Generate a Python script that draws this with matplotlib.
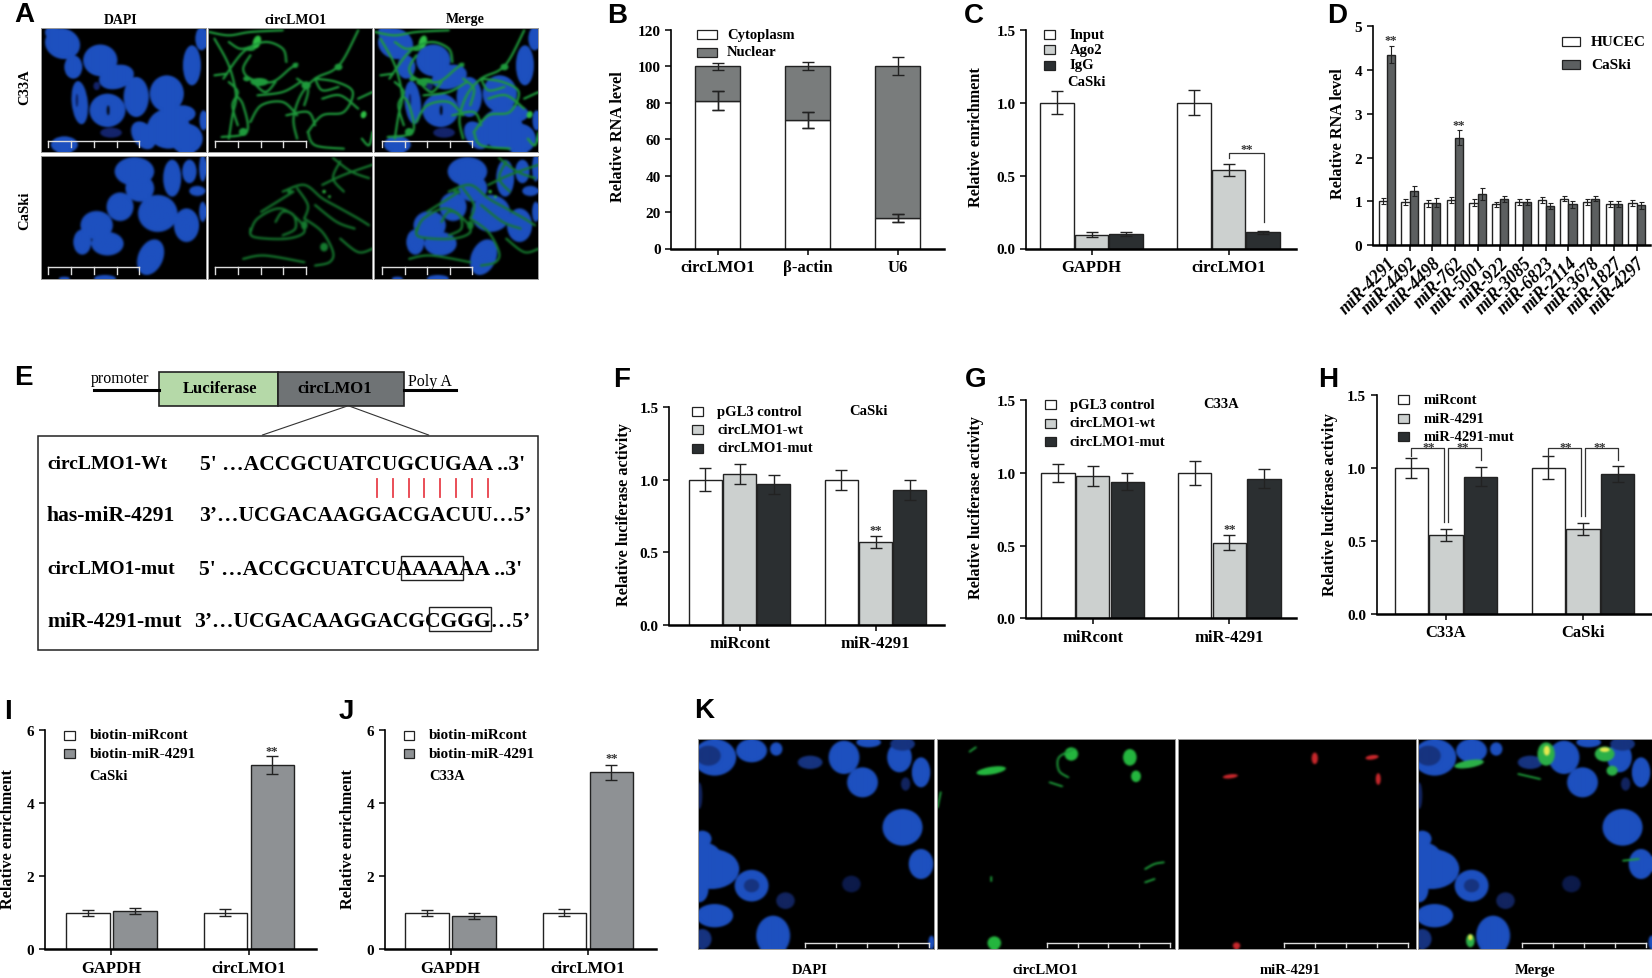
import matplotlib
matplotlib.use("Agg")
import matplotlib.pyplot as plt
from matplotlib.backends.backend_agg import FigureCanvasAgg
from matplotlib.figure import Figure
from matplotlib.patches import Ellipse, Rectangle
import numpy as np

plt.rcParams['font.family'] = ['Liberation Serif', 'DejaVu Sans']
plt.rcParams['font.weight'] = 'bold'

W, H = 1652, 979

WHITE = '#ffffff'
LIGHT = '#ccd0cf'
DARK = '#2b2f31'
MID = '#797c7c'
STEEL = '#8e9194'
DGRAY = '#5c5f60'

# panel B
b_names = ['circLMO1', 'β-actin', 'U6']
b_cyto = [81, 70.5, 16.5]
b_cyto_err = [5.2, 4.2, 2.2]
b_nuclear = [19, 29.5, 83.5]
b_nuclear_err = [2, 2.1, 4.9]

# panel C
c_names = ['GAPDH', 'circLMO1']
c_input = [1.0, 1.0]
c_input_err = [0.078, 0.088]
c_ago2 = [0.095, 0.54]
c_ago2_err = [0.015, 0.04]
c_igg = [0.10, 0.11]
c_igg_err = [0.016, 0.008]

# panel D
d_names = ['miR-4291', 'miR-4492', 'miR-4498', 'miR-762', 'miR-5001', 'miR-922',
           'miR-3085', 'miR-6823', 'miR-2114', 'miR-3678', 'miR-1827', 'miR-4297']
d_hucec = [1.0, 0.98, 0.95, 1.03, 0.97, 0.93, 0.98, 1.03, 1.06, 0.98, 0.93, 0.97]
d_hucec_err = [0.07, 0.07, 0.08, 0.07, 0.08, 0.06, 0.07, 0.06, 0.06, 0.07, 0.07, 0.07]
d_caski = [4.35, 1.24, 0.97, 2.45, 1.17, 1.05, 0.98, 0.89, 0.93, 1.06, 0.94, 0.91]
d_caski_err = [0.2, 0.12, 0.1, 0.17, 0.14, 0.07, 0.07, 0.07, 0.08, 0.05, 0.07, 0.08]

# panel F
f_names = ['miRcont', 'miR-4291']
f_pgl3 = [1.0, 1.0]
f_pgl3_err = [0.08, 0.07]
f_wt = [1.04, 0.57]
f_wt_err = [0.07, 0.04]
f_mut = [0.97, 0.93]
f_mut_err = [0.065, 0.07]

# panel G
g_names = ['miRcont', 'miR-4291']
g_pgl3 = [1.0, 1.0]
g_pgl3_err = [0.06, 0.08]
g_wt = [0.98, 0.52]
g_wt_err = [0.07, 0.05]
g_mut = [0.94, 0.96]
g_mut_err = [0.06, 0.065]

# panel H
h_names = ['C33A', 'CaSki']
h_cont = [1.0, 1.0]
h_cont_err = [0.07, 0.08]
h_4291 = [0.54, 0.58]
h_4291_err = [0.04, 0.04]
h_mut = [0.94, 0.96]
h_mut_err = [0.065, 0.055]

# panels I, J
ij_names = ['GAPDH', 'circLMO1']
i_cont = [1.0, 1.0]
i_cont_err = [0.09, 0.1]
i_4291 = [1.06, 5.05]
i_4291_err = [0.08, 0.25]
j_cont = [1.0, 1.0]
j_cont_err = [0.09, 0.1]
j_4291 = [0.92, 4.85]
j_4291_err = [0.08, 0.2]

fig = plt.figure(figsize=(W / 100, H / 100), dpi=100, facecolor='white')

def px_axes(l, r, t, b, **kw):
    return fig.add_axes([l / W, 1 - b / H, (r - l) / W, (b - t) / H], **kw)

over = px_axes(0, W, 0, H, zorder=20)
over.set_xlim(0, W)
over.set_ylim(H, 0)
over.axis('off')
over.patch.set_alpha(0)

def txt(x, y, s, size=11, ha='left', weight='bold', **kw):
    over.text(x, y, s, fontsize=size, ha=ha, va='center', fontweight=weight, **kw)

def letter(x, y, s):
    over.text(x, y + 2, s, fontsize=20, ha='left', va='center', fontweight='bold',
              family='Liberation Sans')

def chart(l, r, t, b, centers, spacing, ymax, yticks, ylabels, xnames, ylab, ylab_x, ylab_y, tick=4.5):
    ax = px_axes(l, r, t, b)
    ax.set_xlim((l - centers) / spacing, (r - centers) / spacing)
    ax.set_ylim(0, ymax)
    ax.spines['top'].set_visible(False)
    ax.spines['right'].set_visible(False)
    ax.spines['left'].set_linewidth(1.2)
    ax.spines['bottom'].set_linewidth(1.8)
    ax.set_yticks(yticks)
    ax.set_yticklabels(ylabels, fontsize=11)
    ax.set_xticks(range(len(xnames)))
    ax.set_xticklabels(xnames, fontsize=12)
    ax.tick_params(axis='both', width=1.1, length=tick, pad=3)
    ax.patch.set_alpha(0)
    txt(ylab_x + 1.5, ylab_y, ylab, size=11.7, ha='center', rotation=90, rotation_mode='anchor')
    return ax

def bars(ax, xs, vals, errs, color, width, cap=4.0, bottom=None, elw=1.0):
    ax.bar(xs, vals, width=width, bottom=bottom, color=color, edgecolor='#222222', linewidth=1.0, zorder=2)
    base = bottom if bottom is not None else [0] * len(vals)
    tops = [v + q for v, q in zip(vals, base)]
    ax.errorbar(xs, tops, yerr=errs, fmt='none', ecolor='#222222', elinewidth=elw,
                capsize=cap, capthick=elw, zorder=3)

def triple(ax, a, ae, b, be, c, ce, width=0.243, off=0.253):
    for i, (v, e, col) in enumerate([(a, ae, WHITE), (b, be, LIGHT), (c, ce, DARK)]):
        xs = [k + (i - 1) * off for k in range(len(v))]
        bars(ax, xs, v, e, col, width)

def stars(ax, x, y, size=9):
    ax.text(x, y, '**', fontsize=size, ha='center', va='center', color='#333333', clip_on=False)

def swatch(x0, x1, y0, y1, color):
    over.add_patch(Rectangle((x0, y0), x1 - x0, y1 - y0, facecolor=color, edgecolor='#222222', linewidth=0.9))

def legend(x0, x1, xt, ys, hh, names, colors, size=10.5):
    for y, n, c in zip(ys, names, colors):
        swatch(x0, x1, y - hh, y + hh, c)
        txt(xt, y, n, size=size)

# B
ax = chart(671, 944, 30.7, 249.5, 717.5, 90, 120, [0, 20, 40, 60, 80, 100, 120],
           ['0', '20', '40', '60', '80', '100', '120'], b_names, 'Relative RNA level', 617, 137)
bars(ax, range(3), b_cyto, b_cyto_err, WHITE, 0.5)
bars(ax, range(3), b_nuclear, b_nuclear_err, MID, 0.5, bottom=b_cyto)
ax.errorbar(range(3), b_cyto, yerr=b_cyto_err, fmt='none', ecolor='#222222', elinewidth=1, capsize=4, capthick=1, zorder=4)
legend(697, 717, 727, [35.5, 53], 4.5, ['Cytoplasm', 'Nuclear'], [WHITE, MID])
letter(607, 14, 'B')

# C
ax = chart(1026, 1296, 30.7, 249.5, 1091.7, 136.8, 1.5, [0, 0.5, 1, 1.5],
           ['0.0', '0.5', '1.0', '1.5'], c_names, 'Relative enrichment', 974, 137)
triple(ax, c_input, c_input_err, c_ago2, c_ago2_err, c_igg, c_igg_err, width=0.245, off=0.252)
ax.plot([1, 1, 1.26, 1.26], [0.62, 0.655, 0.655, 0.18], color='#333333', lw=0.9, zorder=4)
stars(ax, 1.13, 0.685)
legend(1044, 1055, 1069.5, [35, 50.7, 66], 4.5, ['Input', 'Ago2', 'IgG'], [WHITE, LIGHT, DARK])
txt(1067, 82.3, 'CaSki', size=10.5)
letter(964, 14, 'C')

# D
ax = chart(1372.5, 1650, 27.3, 246, 1386.8, 22.7, 5, [0, 1, 2, 3, 4, 5],
           ['0', '1', '2', '3', '4', '5'], d_names, 'Relative RNA level', 1337, 134)
ax.set_xticklabels(d_names, fontsize=12.8, style='italic', rotation=45, ha='right', rotation_mode='anchor')
ax.tick_params(axis='x', pad=2)
pos = list(range(12))
bars(ax, [p - 0.18 for p in pos], d_hucec, d_hucec_err, WHITE, 0.36, cap=1.8, elw=0.8)
bars(ax, [p + 0.18 for p in pos], d_caski, d_caski_err, DGRAY, 0.36, cap=1.8, elw=0.8)
stars(ax, 0.18, 4.68)
stars(ax, 3.18, 2.75)
legend(1562, 1580, 1591, [42, 65.5], 4.5, ['HUCEC', 'CaSki'], [WHITE, DGRAY], size=11)
letter(1327, 14, 'D')

# F
ax = chart(669, 944, 408.3, 626, 739.5, 136, 1.5, [0, 0.5, 1, 1.5],
           ['0.0', '0.5', '1.0', '1.5'], f_names, 'Relative luciferase activity', 622, 515)
triple(ax, f_pgl3, f_pgl3_err, f_wt, f_wt_err, f_mut, f_mut_err)
stars(ax, 1, 0.655)
legend(692, 703, 717, [412.7, 430.7, 449], 4.5, ['pGL3 control', 'circLMO1-wt', 'circLMO1-mut'], [WHITE, LIGHT, DARK])
txt(849, 412, 'CaSki', size=10.5)
letter(613, 378, 'F')

# G
ax = chart(1026, 1296, 401.3, 619.3, 1092.6, 136.8, 1.5, [0, 0.5, 1, 1.5],
           ['0.0', '0.5', '1.0', '1.5'], g_names, 'Relative luciferase activity', 974, 508)
triple(ax, g_pgl3, g_pgl3_err, g_wt, g_wt_err, g_mut, g_mut_err)
stars(ax, 1, 0.615)
legend(1045, 1056, 1069.5, [405.7, 424, 442.7], 4.5, ['pGL3 control', 'circLMO1-wt', 'circLMO1-mut'], [WHITE, LIGHT, DARK])
txt(1203, 405, 'C33A', size=10.5)
letter(965, 378, 'G')

# H
ax = chart(1376.7, 1652, 395.7, 615, 1446, 137, 1.5, [0, 0.5, 1, 1.5],
           ['0.0', '0.5', '1.0', '1.5'], h_names, 'Relative luciferase activity', 1328, 505)
triple(ax, h_cont, h_cont_err, h_4291, h_4291_err, h_mut, h_mut_err)
for g, leg in zip([0, 1], [0.63, 0.67]):
    ax.plot([g - 0.254, g - 0.254, g - 0.015, g - 0.015], [1.08, 1.135, 1.135, leg], color='#333333', lw=0.9, zorder=4)
    ax.plot([g + 0.015, g + 0.015, g + 0.254, g + 0.254], [leg, 1.135, 1.135, 1.05], color='#333333', lw=0.9, zorder=4)
    stars(ax, g - 0.125, 1.145)
    stars(ax, g + 0.125, 1.145)
legend(1398, 1409, 1423.6, [400.7, 419.3, 437.3], 4.5, ['miRcont', 'miR-4291', 'miR-4291-mut'], [WHITE, LIGHT, DARK])
letter(1318, 378, 'H')

# I
ax = chart(44.7, 315.7, 731.3, 950.3, 111.4, 137.3, 6, [0, 2, 4, 6], ['0', '2', '4', '6'],
           ij_names, 'Relative enrichment', 7, 839)
bars(ax, [-0.171, 0.829], i_cont, i_cont_err, WHITE, 0.315)
bars(ax, [0.171, 1.171], i_4291, i_4291_err, STEEL, 0.315)
stars(ax, 1.171, 5.42)
legend(64, 74.6, 89.8, [736, 754.3], 4.5, ['biotin-miRcont', 'biotin-miR-4291'], [WHITE, STEEL], size=11)
txt(89, 776.7, 'CaSki', size=10.5)
letter(4, 710, 'I')

# J
ax = chart(384.6, 655.7, 731.3, 950.3, 450.6, 137.3, 6, [0, 2, 4, 6], ['0', '2', '4', '6'],
           ij_names, 'Relative enrichment', 347, 839)
bars(ax, [-0.171, 0.829], j_cont, j_cont_err, WHITE, 0.315)
bars(ax, [0.171, 1.171], j_4291, j_4291_err, STEEL, 0.315)
stars(ax, 1.171, 5.24)
legend(404, 413.7, 428.4, [736, 754.3], 4.5, ['biotin-miRcont', 'biotin-miR-4291'], [WHITE, STEEL], size=11)
txt(429, 777, 'C33A', size=10.5)
letter(339, 710, 'J')

# E scheme
def ex(v):
    return v / 2.8
def ey(v):
    return 350 + v / 3

over.add_patch(Rectangle((ex(444), ey(68)), ex(333), 104 / 3, facecolor='#b5d9a8', edgecolor='#222222', linewidth=1.2))
over.add_patch(Rectangle((ex(777), ey(68)), ex(355), 104 / 3, facecolor='#6f7375', edgecolor='#222222', linewidth=1.2))
over.plot([ex(262), ex(444)], [ey(123), ey(123)], color='k', lw=2.2)
over.plot([ex(1132), ex(1278)], [ey(123), ey(123)], color='k', lw=2.2)
txt(ex(335), ey(88), 'promoter', size=11.5, ha='center', weight='normal')
txt(ex(1205), ey(95), 'Poly A', size=11.5, ha='center', weight='normal')
txt(ex(617), ey(118), 'Luciferase', size=12, ha='center')
txt(ex(937), ey(118), 'circLMO1', size=12, ha='center')
over.plot([ex(970), ex(735)], [ey(172), ey(258)], color='#333333', lw=0.8)
over.plot([ex(980), ex(1200)], [ey(172), ey(258)], color='#333333', lw=0.8)
over.add_patch(Rectangle((ex(105), ey(260)), ex(1400), (903 - 260) / 3, facecolor='white', edgecolor='#222222', linewidth=1.1))

e_labels = ['circLMO1-Wt', 'has-miR-4291', 'circLMO1-mut', 'miR-4291-mut']
e_label_size = [14, 15.6, 14, 15.6]
e_seqs = ["5' …ACCGCUATCUGCUGAA ..3'", '3’…UCGACAAGGACGACUU…5’',
          "5' …ACCGCUATCUAAAAAA ..3'", '3’…UCGACAAGGACGCGGG…5’']
e_seq_x = [560, 557, 558, 543]
e_rows = [345, 498, 660, 815]
for lab, ls, seq, sx, row in zip(e_labels, e_label_size, e_seqs, e_seq_x, e_rows):
    txt(47, ey(row), lab, size=ls)
    txt(ex(sx), ey(row), seq, size=15.6)
for xz in [1055, 1100, 1145, 1186, 1231, 1276, 1321, 1366]:
    over.plot([ex(xz), ex(xz)], [ey(390), ey(445)], color='#e8404a', lw=1.3)
for x0, x1, y0, y1 in [(1124, 1296, 620, 693), (1200, 1376, 775, 847)]:
    over.add_patch(Rectangle((ex(x0), ey(y0)), ex(x1) - ex(x0), ey(y1) - ey(y0), fill=False,
                             edgecolor='#222222', linewidth=1.0, zorder=5))
letter(14, 376, 'E')

# micrographs: drawn off screen in the crop coordinates they were read from,
# then blurred a little and placed as a picture
BLUE = '#1d50bf'
GREEN = '#1f9a3c'
KERNEL = np.array([0.06, 0.24, 0.4, 0.24, 0.06])

def curve(p, steps=8):
    # Catmull-Rom through the read points
    p = np.array([p[0]] + list(p) + [p[-1]], dtype=float)
    out = []
    for i in range(1, len(p) - 2):
        for t in np.linspace(0, 1, steps, endpoint=False):
            out.append(0.5 * (2 * p[i] + (p[i + 1] - p[i - 1]) * t
                              + (2 * p[i - 1] - 5 * p[i] + 4 * p[i + 1] - p[i + 2]) * t ** 2
                              + (3 * p[i] - p[i - 1] - 3 * p[i + 1] + p[i + 2]) * t ** 3))
    out.append(p[-2])
    return np.array(out)

def micro(x0, x1, y0, y1, sx, sy, ox, oy):
    pw = (x1 - x0) / sx
    ph = (y1 - y0) / sy
    off = Figure(figsize=(pw / 100, ph / 100), dpi=100, facecolor='black')
    FigureCanvasAgg(off)
    oax = off.add_axes([0, 0, 1, 1])
    oax.set_xlim(x0, x1)
    oax.set_ylim(y1, y0)
    oax.set_facecolor('black')
    oax.axis('off')
    oax.target = (x0, x1, y0, y1, sx, sy, ox, oy)
    return oax

def finish(oax, bar):
    x0, x1, y0, y1, sx, sy, ox, oy = oax.target
    oax.figure.canvas.draw()
    img = np.asarray(oax.figure.canvas.buffer_rgba())[..., :3] / 255.0
    for axis in (0, 1):
        img = np.apply_along_axis(lambda v: np.convolve(np.pad(v, 2, mode='edge'), KERNEL, mode='valid'), axis, img)
    ax = px_axes(ox + x0 / sx, ox + x1 / sx, oy + y0 / sy, oy + y1 / sy, zorder=5)
    ax.imshow(img, extent=(x0, x1, y1, y0), aspect='auto', interpolation='bilinear')
    ax.set_xlim(x0, x1)
    ax.set_ylim(y1, y0)
    ax.set_xticks([])
    ax.set_yticks([])
    for s in ax.spines.values():
        s.set_color('#9a9a9a')
        s.set_linewidth(0.7)
    scale_bar(ax, *bar)

def nuclei(ax, items, dx=0, color=BLUE):
    for it in items:
        x, y, w, h = it[:4]
        ang = it[4] if len(it) > 4 else 0
        col = it[5] if len(it) > 5 else color
        ax.add_patch(Ellipse((x + dx, y), w, h, angle=ang, facecolor=col, edgecolor='none'))

def threads(ax, paths, dx=0, color=GREEN, lw=1.6):
    for p in paths:
        c = curve(p)
        ax.plot(c[:, 0] + dx, c[:, 1], color=color, lw=lw, solid_capstyle='round')

def scale_bar(ax, x0, x1, y0, y1, n=4, color='#dddddd'):
    ax.plot([x0, x1], [y0, y0], color=color, lw=1.0, zorder=10)
    for i in range(n + 1):
        x = x0 + (x1 - x0) * i / n
        ax.plot([x, x], [y0, y1], color=color, lw=1.0, zorder=10)

a_top = [(175, 135, 100, 90, 30), (205, 205, 50, 70), (280, 185, 95, 95), (325, 235, 100, 70, -20),
         (380, 295, 70, 120), (223, 312, 45, 130, -5), (300, 335, 100, 100), (465, 285, 95, 110),
         (470, 390, 120, 120), (510, 345, 70, 50), (535, 200, 50, 120), (562, 120, 35, 70),
         (400, 410, 60, 90, -30), (180, 438, 75, 50), (310, 402, 60, 30, 0, '#14246b'), (567, 365, 22, 60),
         (150, 105, 50, 40, 30), (520, 420, 90, 90)]
a_top_dark = [(302, 335, 7, 30, 0, '#000000'), (215, 305, 6, 40, 0, '#0a1a55'), (270, 262, 18, 25, 0, '#14246b')]
a_bot = [(375, 520, 110, 85), (390, 570, 80, 80), (335, 625, 75, 85), (480, 540, 50, 110),
         (528, 520, 40, 70), (550, 578, 45, 30), (565, 510, 20, 80), (440, 645, 110, 110, -40),
         (520, 680, 70, 100), (270, 680, 90, 85), (300, 735, 90, 70), (230, 730, 50, 75),
         (420, 775, 70, 110, 20), (293, 838, 60, 20), (180, 838, 30, 10), (565, 640, 20, 60)]
a_top_paths = [[(600, 120), (640, 200), (660, 290), (650, 350), (640, 420)],
               [(625, 240), (680, 160), (740, 130), (790, 150), (800, 190)],
               [(700, 170), (680, 210), (700, 240), (760, 250), (810, 210), (830, 195)],
               [(660, 290), (680, 320), (690, 400), (620, 415)],
               [(1000, 95), (960, 180), (930, 215), (880, 240), (840, 290), (820, 360), (830, 420)],
               [(700, 370), (730, 320), (790, 310), (830, 350)],
               [(880, 240), (940, 250), (985, 280), (960, 340), (900, 350), (860, 400)],
               [(860, 400), (880, 440), (960, 450)],
               [(585, 100), (640, 110), (700, 100), (790, 95)],
               [(1000, 300), (1040, 280)], [(1010, 420), (1030, 440), (1040, 400)],
               [(900, 300), (950, 290), (1000, 330)], [(720, 290), (790, 280), (840, 250)],
               [(640, 250), (665, 280), (650, 320), (665, 380)], [(830, 240), (860, 270), (850, 320)],
               [(700, 240), (740, 280), (770, 250)], [(880, 240), (900, 275), (945, 265)],
               [(640, 130), (670, 150), (700, 145)], [(600, 230), (635, 225)], [(800, 350), (860, 340), (880, 380)]]
a_top_blobs = [(725, 250, 50, 24), (945, 205, 22, 20), (825, 200, 16, 16), (680, 400, 24, 24), (700, 150, 28, 14),
               (855, 260, 26, 24), (690, 240, 20, 16)]
a_top_spots = [(718, 130, 22, 40, 15, '#2fbf45'), (1015, 348, 16, 22, 15, '#2fbf45')]
a_bot_paths = [[(700, 700), (720, 660), (780, 630), (830, 660), (850, 700), (800, 720), (710, 715), (700, 690)],
               [(770, 670), (790, 640), (820, 650), (825, 690), (790, 710)],
               [(790, 580), (850, 560), (900, 600), (950, 630), (1000, 660), (1030, 680)],
               [(850, 660), (900, 700), (930, 760), (920, 790), (880, 800)],
               [(930, 480), (980, 520), (1030, 540)], [(900, 560), (960, 530), (1040, 500)],
               [(950, 720), (1000, 760), (1040, 750)], [(680, 780), (740, 770), (850, 790)],
               [(830, 570), (860, 620), (850, 660)], [(950, 490), (930, 540), (960, 580)],
               [(880, 620), (940, 670), (990, 690)], [(730, 640), (790, 600), (820, 580)]]
a_bot_blobs = [(850, 680, 18, 26), (905, 745, 22, 26), (810, 580, 16, 12)]
a_bot_spots = [(905, 580, 10, 10, 0, '#2fbf45'), (920, 595, 8, 8, 0, '#2fbf45')]

GREEN_DIM = '#167a2f'
for rows in [(88, 460, a_top, a_top_dark, a_top_paths, a_top_blobs, a_top_spots, GREEN, 427, 445),
             (470, 840, a_bot, [], a_bot_paths, a_bot_blobs, a_bot_spots, GREEN_DIM, 805, 825)]:
    y0, y1, nuc, dark, paths, blobs, spots, gc, b0, b1 = rows
    oax = micro(115, 576, y0, y1, 2.8, 3, 0, 0)
    nuclei(oax, nuc)
    nuclei(oax, dark)
    finish(oax, (135, 390, b0, b1))
    oax = micro(582, 1042, y0, y1, 2.8, 3, 0, 0)
    threads(oax, paths, color=gc)
    nuclei(oax, blobs, color=gc)
    nuclei(oax, spots)
    finish(oax, (601, 858, b0, b1))
    oax = micro(1048, 1507, y0, y1, 2.8, 3, 0, 0)
    threads(oax, paths, dx=466, color=gc)
    nuclei(oax, blobs, dx=466, color=gc)
    nuclei(oax, nuc, dx=933)
    nuclei(oax, dark, dx=933)
    nuclei(oax, spots, dx=466)
    finish(oax, (1070, 1322, b0, b1))

txt(121, 20, 'DAPI', size=10, ha='center')
txt(296, 20, 'circLMO1', size=10, ha='center')
txt(465, 20, 'Merge', size=10, ha='center')
txt(25, 87.3, 'C33A', size=10.5, ha='center', rotation=90, rotation_mode='anchor')
txt(25, 210.7, 'CaSki', size=10.5, ha='center', rotation=90, rotation_mode='anchor')
letter(14, 13, 'A')

# K
k_nuc = [(40, 175, 70, 110), (100, 155, 50, 70), (140, 150, 20, 40), (250, 175, 50, 100), (280, 250, 50, 90),
         (195, 190, 40, 40, 0, '#16337f'), (340, 175, 40, 90), (375, 220, 30, 90),
         (350, 255, 15, 40, 0, '#12245f'), (345, 385, 65, 110), (375, 495, 40, 90), (20, 420, 30, 50),
         (35, 510, 90, 120), (100, 560, 55, 95), (40, 650, 60, 70), (135, 710, 55, 120),
         (155, 605, 30, 50, 0, '#12245f'), (262, 555, 30, 50, 0, '#0c1a4a'), (392, 730, 10, 40),
         (15, 290, 10, 80, 0, '#12245f'), (290, 130, 40, 30), (20, 720, 30, 60, 0, '#16337f'),
         (20, 470, 60, 80), (50, 490, 50, 60), (15, 570, 30, 80), (345, 135, 40, 40, 0, '#16337f')]
k_nuc_dark = [(100, 560, 25, 40, 0, '#16337f'), (30, 170, 40, 60, 0, '#16337f')]
k_green = [(490, 215, 50, 22, -20), (620, 165, 22, 40), (715, 175, 22, 50), (725, 232, 16, 35), (495, 732, 22, 40)]
k_green_paths = [[(625, 150), (600, 175), (600, 215), (615, 235)], [(465, 145), (455, 158)], [(585, 250), (605, 262)],
                 [(740, 510), (755, 495), (770, 490)], [(740, 550), (755, 540)], [(490, 535), (490, 545)], [(408, 280), (403, 325)]]
k_red = [(1017, 178, 10, 35), (1110, 175, 22, 13, -20), (1120, 240, 8, 35), (880, 232, 25, 12, -15), (890, 740, 12, 20)]
k_merge_green = [(1395, 165, 28, 70), (1490, 165, 32, 45), (1502, 215, 18, 30), (1270, 195, 50, 22, -20), (1272, 725, 14, 40)]
k_merge_yellow = [(1396, 155, 10, 30), (1490, 152, 16, 14), (1272, 715, 7, 18)]

oax = micro(13, 398, 120, 750, 1.63, 3, 690, 700)
nuclei(oax, k_nuc)
nuclei(oax, k_nuc_dark)
finish(oax, (188, 390, 731, 745))
oax = micro(402, 791, 120, 750, 1.63, 3, 690, 700)
threads(oax, k_green_paths, color='#1e9c3a', lw=1.4)
nuclei(oax, k_green, color='#25b63f')
finish(oax, (582, 782, 731, 745))
oax = micro(795, 1183, 120, 750, 1.63, 3, 690, 700)
nuclei(oax, k_red, color='#c9282c')
finish(oax, (969, 1170, 731, 745))
oax = micro(1187, 1568, 120, 750, 1.63, 3, 690, 700)
nuclei(oax, k_nuc, dx=1174)
nuclei(oax, k_nuc_dark, dx=1174)
threads(oax, [[(1350, 225), (1385, 240)], [(1520, 485), (1545, 480)]], color='#1e9c3a', lw=1.4)
nuclei(oax, k_merge_green, color='#2cb048')
nuclei(oax, k_merge_yellow, color='#e8ea50')
finish(oax, (1356, 1558, 731, 745))
for xz, name in zip([195, 580, 978, 1378], ['DAPI', 'circLMO1', 'miR-4291', 'Merge']):
    txt(690 + xz / 1.63, 970.5, name, size=10.5, ha='center')
letter(694, 709, 'K')

fig.savefig('out.png', dpi=100, facecolor='white')
